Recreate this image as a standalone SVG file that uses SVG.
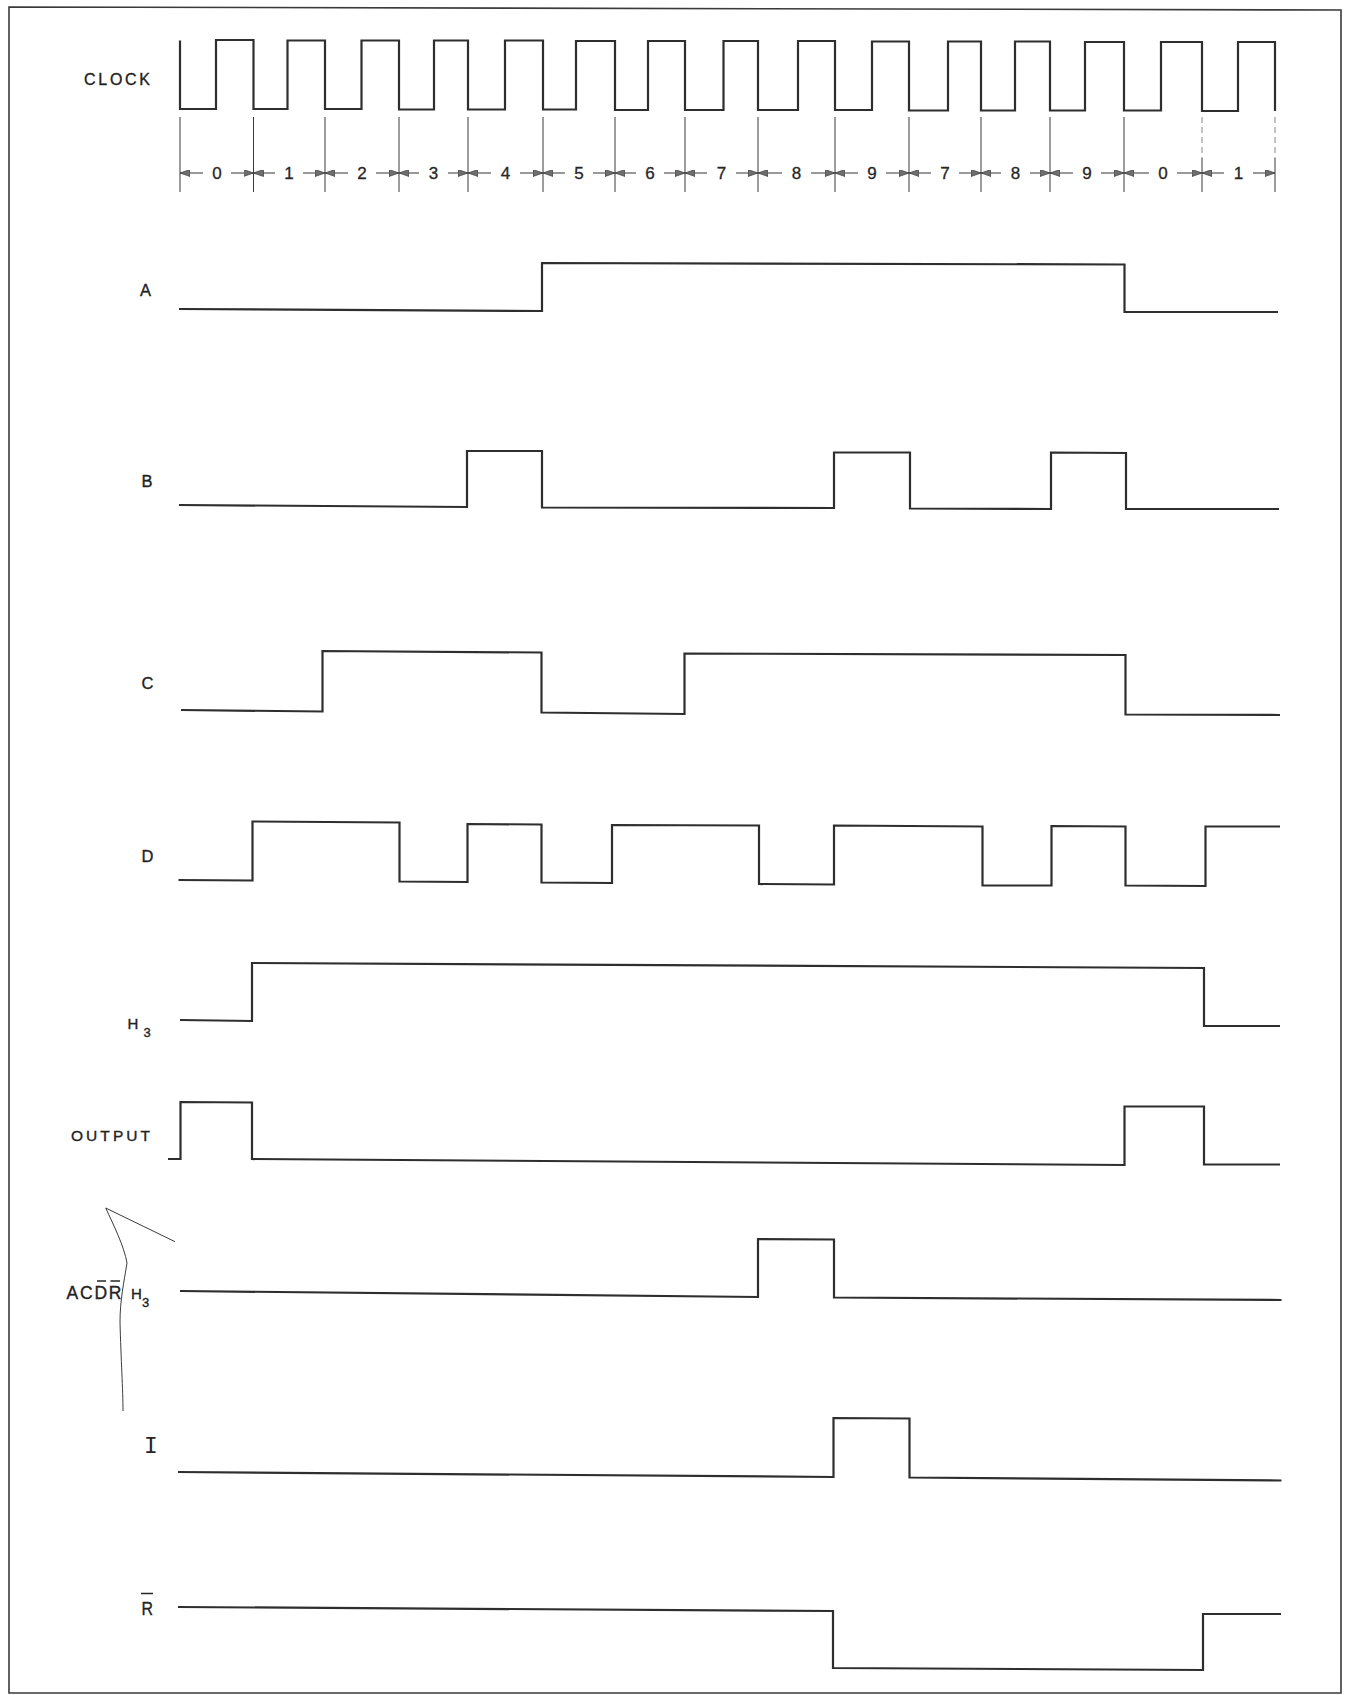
<svg xmlns="http://www.w3.org/2000/svg" width="1350" height="1695" viewBox="0 0 1350 1695">
<style>
.bg{fill:#ffffff}
.frame{fill:none;stroke:#3a3a3a;stroke-width:1.6}
.wave{fill:none;stroke:#2e2e2e;stroke-width:2.2;stroke-linejoin:miter}
.tick{stroke:#3a3a3a;stroke-width:1}
.dim{stroke:#555;stroke-width:1.2;fill:none}
.lbl{font-family:"Liberation Sans","DejaVu Sans",sans-serif;fill:#222;stroke:#222;stroke-width:0.35}
.num{font-family:"Liberation Sans","DejaVu Sans",sans-serif;font-size:17px;fill:#262626;stroke:#262626;stroke-width:0.3;text-anchor:middle}
.bar{stroke:#262626;stroke-width:1.5}
.pen{fill:none;stroke:#3c3c3c;stroke-width:1}
</style>
<defs>
<marker id="ah" viewBox="0 0 10 7" refX="10" refY="3.5" markerWidth="10" markerHeight="7" markerUnits="userSpaceOnUse" orient="auto">
<path d="M0,0 L10,3.5 L0,7 Z" fill="#6e6e6e" stroke="#3a3a3a" stroke-width="0.7"/>
</marker>
</defs>
<rect class="bg" x="0" y="0" width="1350" height="1695"/>
<path class="frame" d="M9,7 L1341,10 L1341,1693 L9,1693 Z"/>

<g id="clock">
<text class="lbl" x="84" y="85" style="font-size:16px" textLength="66" lengthAdjust="spacing">CLOCK</text>
<path class="wave" d="M180,40.5 V109 H216 V40 H253.5 V109 H287.5 V40.5 H325 V109 H361.5 V40.5 H399 V109.5 H434 V40.5 H468 V109.5 H505 V40.5 H543 V109.5 H576 V41 H615 V110 H648 V41 H685 V110 H723.5 V41 H758 V110 H798 V41 H835 V110 H872 V41.5 H909 V110.5 H948 V41.5 H981 V110.5 H1015 V41.5 H1050 V110.5 H1085 V42 H1124 V110.5 H1161 V42 H1202 V111 H1238 V42 H1275 V111"/>
</g>

<g id="timing-scale">
<g class="tick">
<line x1="180" y1="117" x2="180" y2="192"/>
<line x1="253.5" y1="117" x2="253.5" y2="192"/>
<line x1="325" y1="117" x2="325" y2="192"/>
<line x1="399" y1="117" x2="399" y2="192"/>
<line x1="468" y1="117" x2="468" y2="192"/>
<line x1="543" y1="117" x2="543" y2="192"/>
<line x1="615" y1="117" x2="615" y2="192"/>
<line x1="685" y1="117" x2="685" y2="192"/>
<line x1="758" y1="117" x2="758" y2="192"/>
<line x1="835" y1="117" x2="835" y2="192"/>
<line x1="909" y1="117" x2="909" y2="192"/>
<line x1="981" y1="117" x2="981" y2="192"/>
<line x1="1050" y1="117" x2="1050" y2="192"/>
<line x1="1124" y1="117" x2="1124" y2="192"/>
<line x1="1202" y1="117" x2="1202" y2="158" stroke-dasharray="6 4" stroke="#888"/>
<line x1="1202" y1="158" x2="1202" y2="192"/>
<line x1="1275" y1="117" x2="1275" y2="158" stroke-dasharray="6 4" stroke="#888"/>
<line x1="1275" y1="158" x2="1275" y2="192"/>
</g>
<g class="dim" marker-end="url(#ah)">
<line x1="203" y1="173" x2="180" y2="173"/><line x1="231" y1="173" x2="253.5" y2="173"/>
<line x1="275" y1="173" x2="253.5" y2="173"/><line x1="303" y1="173" x2="325" y2="173"/>
<line x1="348" y1="173" x2="325" y2="173"/><line x1="376" y1="173" x2="399" y2="173"/>
<line x1="419" y1="173" x2="399" y2="173"/><line x1="448" y1="173" x2="468" y2="173"/>
<line x1="491" y1="173" x2="468" y2="173"/><line x1="520" y1="173" x2="543" y2="173"/>
<line x1="565" y1="173" x2="543" y2="173"/><line x1="593" y1="173" x2="615" y2="173"/>
<line x1="636" y1="173" x2="615" y2="173"/><line x1="664" y1="173" x2="685" y2="173"/>
<line x1="707" y1="173" x2="685" y2="173"/><line x1="736" y1="173" x2="758" y2="173"/>
<line x1="782" y1="173" x2="758" y2="173"/><line x1="811" y1="173" x2="835" y2="173"/>
<line x1="858" y1="173" x2="835" y2="173"/><line x1="886" y1="173" x2="909" y2="173"/>
<line x1="931" y1="173" x2="909" y2="173"/><line x1="959" y1="173" x2="981" y2="173"/>
<line x1="1001" y1="173" x2="981" y2="173"/><line x1="1030" y1="173" x2="1050" y2="173"/>
<line x1="1073" y1="173" x2="1050" y2="173"/><line x1="1101" y1="173" x2="1124" y2="173"/>
<line x1="1149" y1="173" x2="1124" y2="173"/><line x1="1177" y1="173" x2="1202" y2="173"/>
<line x1="1224" y1="173" x2="1202" y2="173"/><line x1="1253" y1="173" x2="1275" y2="173"/>
</g>
<text class="num" x="217" y="179">0</text>
<text class="num" x="289" y="179">1</text>
<text class="num" x="362" y="179">2</text>
<text class="num" x="433.5" y="179">3</text>
<text class="num" x="505.5" y="179">4</text>
<text class="num" x="579" y="179">5</text>
<text class="num" x="650" y="179">6</text>
<text class="num" x="721.5" y="179">7</text>
<text class="num" x="796.5" y="179">8</text>
<text class="num" x="872" y="179">9</text>
<text class="num" x="945" y="179">7</text>
<text class="num" x="1015.5" y="179">8</text>
<text class="num" x="1087" y="179">9</text>
<text class="num" x="1163" y="179">0</text>
<text class="num" x="1238.5" y="179">1</text>
</g>

<g id="signal-a">
<text class="lbl" x="140" y="296" style="font-size:16.5px">A</text>
<path class="wave" d="M179,309 L542,311 L542,263 L1124.5,264.5 L1124.5,312 L1278,312"/>
</g>

<g id="signal-b">
<text class="lbl" x="141.5" y="487" style="font-size:16.5px">B</text>
<path class="wave" d="M179,505 L467,507 L467,451 L542,451 L542,507.5 L834,508 L834,452.5 L910,452.5 L910,508.5 L1051,509 L1051,452.5 L1126,453 L1126,509 L1279,509"/>
</g>

<g id="signal-c">
<text class="lbl" x="141.5" y="689" style="font-size:16.5px">C</text>
<path class="wave" d="M181,710 L322.5,711.5 L322.5,651 L541.5,652.5 L541.5,712.5 L684.5,714 L684.5,653.5 L1125.5,655 L1125.5,714.5 L1280,715"/>
</g>

<g id="signal-d">
<text class="lbl" x="141.5" y="861.5" style="font-size:16.5px">D</text>
<path class="wave" d="M178.5,880 L252.5,880.5 L252.5,821.5 L399.5,822.5 L399.5,881.5 L467.5,882 L467.5,824 L541.5,824.5 L541.5,882.5 L612,883 L612,825 L759,825.5 L759,884 L834,884.5 L834,825.5 L982.5,826.5 L982.5,885.5 L1051.5,885.5 L1051.5,826 L1125.5,826.5 L1125.5,885.5 L1205.5,886 L1205.5,826.5 L1280,826.5"/>
</g>

<g id="signal-h3">
<text class="lbl" x="127.5" y="1028.5" style="font-size:15px">H</text>
<text class="lbl" x="143.5" y="1037" style="font-size:13px">3</text>
<path class="wave" d="M180,1020 L252,1021 L252,963 L1204,968 L1204,1026 L1280,1026"/>
</g>

<g id="signal-output">
<text class="lbl" x="71" y="1140.5" style="font-size:15.5px" textLength="79" lengthAdjust="spacing">OUTPUT</text>
<path class="wave" d="M168,1159 L180.5,1159 L180.5,1102 L252,1102.5 L252,1159 L1124.5,1165 L1124.5,1106.5 L1204,1106.5 L1204,1164.5 L1280,1164.5"/>
</g>

<g id="signal-acdrh3">
<text class="lbl" x="66.5" y="1298.5" style="font-size:17.5px" textLength="55" lengthAdjust="spacing">ACDR</text>
<line class="bar" x1="97" y1="1281" x2="106" y2="1281"/>
<line class="bar" x1="110.5" y1="1281" x2="120" y2="1281"/>
<text class="lbl" x="131" y="1298.5" style="font-size:15px">H</text>
<text class="lbl" x="142" y="1306.5" style="font-size:13px">3</text>
<path class="pen" d="M105.7,1208 L175,1241.7"/>
<path class="pen" d="M105.7,1208 C114,1226 124,1246 127,1263 C124,1282 120,1300 120,1322 C121,1360 123,1390 123,1411"/>
<path class="wave" d="M180,1291 L758,1297 L758,1239 L834,1239.5 L834,1297.5 L1281.5,1300"/>
</g>

<g id="signal-i">
<text x="151" y="1453" font-family="'Liberation Mono','DejaVu Sans Mono',monospace" font-size="23" fill="#262626" text-anchor="middle">I</text>
<path class="wave" d="M178,1472 L833.5,1477 L833.5,1418 L909.5,1418.5 L909.5,1477.5 L1281.5,1480.5"/>
</g>

<g id="signal-rbar">
<text class="lbl" x="141.5" y="1615" style="font-size:19px" textLength="11.5" lengthAdjust="spacingAndGlyphs">R</text>
<line class="bar" x1="141" y1="1593.5" x2="153" y2="1593.5"/>
<path class="wave" d="M178,1607 L833,1611 L833,1668 L1203,1670 L1203,1614 L1281,1614"/>
</g>
</svg>
